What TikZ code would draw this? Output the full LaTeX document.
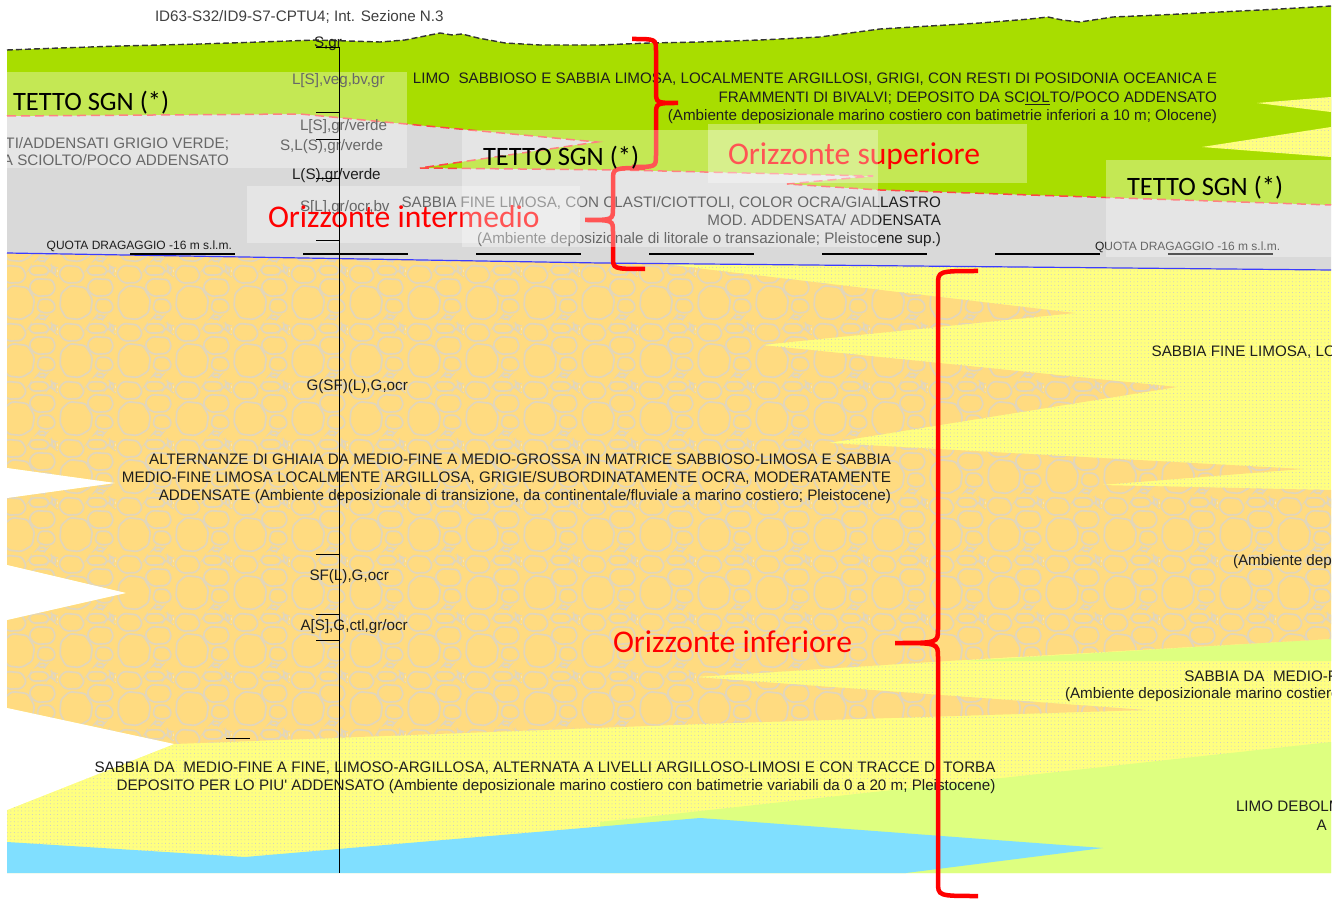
\documentclass[tikz,border=0pt]{standalone}
\usepackage{fontspec}
\setmainfont{Liberation Sans}[Ligatures=TeXOff]
\newfontfamily\calib{Carlito}
\usetikzlibrary{patterns.meta}

\definecolor{topgreen}{RGB}{168,221,0}
\definecolor{greyl}{RGB}{217,217,217}
\definecolor{sand}{RGB}{255,255,128}
\definecolor{gravel}{RGB}{255,219,128}
\definecolor{pebble}{RGB}{226,214,186}
\definecolor{silt}{RGB}{222,255,128}
\definecolor{water}{RGB}{128,223,255}
\definecolor{dotc}{RGB}{200,200,205}
\definecolor{txt}{RGB}{30,30,30}
\definecolor{reddash}{RGB}{255,70,70}
\definecolor{bluel}{RGB}{60,60,255}

\tikzdeclarepattern{
  name=pebbles,
  type=colored,
  bottom left={(0pt,0pt)},
  top right={(58pt,58pt)},
  tile size={(58pt,58pt)},
  code={
    \draw[x=1pt,y=1pt,pebble,line width=1.7pt,rounded corners=3pt]
      (2,14) -- (8,3) -- (22,1.5) -- (33,8) -- (35,22) -- (28,34) -- (12,36) -- (3,28) -- cycle
      (37.5,12) -- (44,8) -- (54,9) -- (56.5,15) -- (52,22) -- (40,22) -- cycle
      (37.5,3) -- (45,1.2) -- (48,5) -- (40,6) -- cycle
      (31,30) -- (38,25) -- (52,26) -- (56.5,33) -- (53,42) -- (36,43) -- (30,37) -- cycle
      (2,44) -- (8,38.5) -- (22,39) -- (27,46) -- (22,55) -- (7,56.5) -- (1.2,50) -- cycle
      (29,51) -- (33,46.5) -- (47,47) -- (50.5,51) -- (46,56) -- (32,56) -- cycle
      (52.5,50) -- (56,47) -- (56.8,54) -- (53,55.5) -- cycle;
  }
}

\begin{document}
\begin{tikzpicture}[x=1pt,y=-1pt,
  txtn/.style={font=\fontsize{15.2}{18}\selectfont, text=txt, inner sep=0pt, outer sep=0pt},
  quota/.style={font=\fontsize{12}{14}\selectfont, text=txt, inner sep=0pt, outer sep=0pt},
  tetto/.style={font=\calib\fontsize{26.5}{30}\selectfont, text=black, inner sep=0pt, outer sep=0pt},
  oriz/.style={font=\calib\fontsize{31.6}{36}\selectfont, text=red, inner sep=0pt, outer sep=0pt},
  sandfill/.style={preaction={fill=sand}, pattern={Dots[distance=3.6pt,radius=0.5pt]}, pattern color=dotc},
  gravelfill/.style={preaction={fill=gravel}, pattern=pebbles},
  brc/.style={draw=red, line width=4.5pt},
  veil/.style={fill=white, fill opacity=0.33},
  tickline/.style={draw=black, line width=1pt},
  redline/.style={draw=reddash, line width=1.5pt, dash pattern=on 9pt off 5pt},
  profline/.style={draw=black!80, line width=1.4pt, dash pattern=on 6pt off 3pt}
]
\useasboundingbox (0,0) rectangle (1344,901);
\fill[white] (0,0) rectangle (1344,901);

% ---------- lower units ----------
\path[sandfill] (7,253) -- (600,263) -- (1331,270) -- (1331,873) -- (7,873) -- cycle;
\fill[silt] (1331,639) -- (963,661) -- (1331,661) -- cycle;
\fill[silt] (1331,742) -- (600,822) -- (600,873) -- (1331,873) -- cycle;
\fill[water] (7,842) -- (245,857) -- (700,818) -- (1103,848) -- (906,873) -- (7,873) -- cycle;
\path[gravelfill] (7,253) -- (662,264) -- (1075,313) -- (761,345) -- (1177,387) -- (828,443)
  -- (1303,469) -- (1100,485) -- (1331,490) -- (1331,639) -- (963,660) -- (695,677)
  -- (1146,710) -- (700,724) -- (174,744) -- (7,708) -- (7,620) -- (126,593) -- (7,565)
  -- (7,498) -- (115,483) -- (7,468) -- cycle;
\fill[white] (7,468) -- (115,483) -- (7,498) -- cycle;
\fill[white] (7,565) -- (126,593) -- (7,620) -- cycle;
\fill[white] (7,708) -- (174,744) -- (7,810) -- cycle;

% ---------- grey unit ----------
\fill[greyl] (7,100) -- (1331,100) -- (1331,270) -- (600,263) -- (7,253) -- cycle;

% ---------- top green unit ----------
\fill[topgreen] (7,50) -- (60,48) -- (120,46) -- (200,44) -- (260,42) -- (316,40) -- (380,42)
  -- (405,40) -- (425,36) -- (440,33) -- (452,35) -- (462,34) -- (478,38) -- (505,43)
  -- (540,45) -- (600,45) -- (650,43) -- (700,42) -- (760,40) -- (820,37) -- (880,29)
  -- (930,26) -- (980,23) -- (1030,19) -- (1048,17) -- (1062,20) -- (1080,22) -- (1113,17)
  -- (1160,15) -- (1220,12) -- (1280,9) -- (1331,6)
  -- (1331,205) -- (880,190) -- (787,184) -- (873,176) -- (620,170) -- (420,168)
  -- (597,142) -- (300,114) -- (7,116) -- cycle;
\path[sandfill] (1331,97) -- (1257,103) -- (1331,112) -- cycle;
\path[sandfill] (1331,127) -- (1202,147) -- (1331,157) -- cycle;

% ---------- boundaries ----------
\draw[redline] (7,116) -- (300,114) -- (597,142) -- (420,168) -- (620,170) -- (873,176)
  -- (787,184) -- (880,190) -- (1331,205);
\draw[draw=bluel, line width=1.2pt] (7,253) -- (600,263) -- (1331,270);
\draw[profline] (7,50) -- (60,48) -- (120,46) -- (200,44) -- (260,42) -- (316,40) -- (380,42)
  -- (405,40) -- (425,36) -- (440,33) -- (452,35) -- (462,34) -- (478,38) -- (505,43)
  -- (540,45) -- (600,45) -- (650,43) -- (700,42) -- (760,40) -- (820,37) -- (880,29)
  -- (930,26) -- (980,23) -- (1030,19) -- (1048,17) -- (1062,20) -- (1080,22) -- (1113,17)
  -- (1160,15) -- (1220,12) -- (1280,9) -- (1331,6);
\draw[black, line width=1.5pt, dash pattern=on 105pt off 68pt] (130,254) -- (1273,254);

% ---------- small texts ----------
\begin{scope}
\clip (7,0) rectangle (1331,873);
\node[txtn, anchor=base west, text=black!75] (title) at (155,22) {ID63-S32/ID9-S7-CPTU4; Int. Sezione N.3};

\node[txtn, anchor=base east] (d1a) at (1217,84) {LIMO\ \ SABBIOSO E SABBIA LIMOSA, LOCALMENTE ARGILLOSI, GRIGI, CON RESTI DI POSIDONIA OCEANICA E};
\node[txtn, anchor=base east] (d1b) at (1217,102.3) {FRAMMENTI DI BIVALVI; DEPOSITO DA SC\underline{IOL}TO/POCO ADDENSATO};
\node[txtn, anchor=base east] (d1c) at (1217,120.5) {(Ambiente deposizionale marino costiero con batimetrie inferiori a 10 m; Olocene)};

\node[txtn, anchor=base east] (d0a) at (229,148.3) {TI/ADDENSATI GRIGIO VERDE;};
\node[txtn, anchor=base east] (d0b) at (229,166) {A SCIOLTO/POCO ADDENSATO};

\node[txtn, anchor=base west] (c0) at (314,47.5) {S,gr};
\node[txtn, anchor=base west] (c1) at (292,84.5) {L[S],veg,bv,gr};
\node[txtn, anchor=base west] (c2) at (300,131) {L[S],gr/verde};
\node[txtn, anchor=base west] (c3) at (280,150.5) {S,L(S),gr/verde};
\node[txtn, anchor=base west] (c4) at (292,180) {L(S),gr/verde};
\node[txtn, anchor=base west] (c5) at (300,211.5) {S[L],gr/ocr,bv};
\node[txtn, anchor=base west] (c6) at (306.5,390) {G(SF)(L),G,ocr};
\node[txtn, anchor=base west] (c7) at (309.5,580) {SF(L),G,ocr};
\node[txtn, anchor=base west] (c8) at (300.5,630) {A[S],G,ctl,gr/ocr};

\node[txtn, anchor=base east] (d2a) at (941,207.7) {SABBIA FINE LIMOSA, CON CLASTI/CIOTTOLI, COLOR OCRA/GIALLASTRO};
\node[txtn, anchor=base east] (d2b) at (941,226) {MOD. ADDENSATA/ ADDENSATA};
\node[txtn, anchor=base east] (d2c) at (941,244) {(Ambiente deposizionale di litorale o transazionale; Pleistocene sup.)};

\node[quota, anchor=base west] (q1) at (46.7,249.3) {QUOTA DRAGAGGIO -16 m s.l.m.};
\node[quota, anchor=base west] (q2) at (1095,250.7) {QUOTA DRAGAGGIO -16 m s.l.m.};

\node[txtn, anchor=base east] (d3a) at (891,464) {ALTERNANZE DI GHIAIA DA MEDIO-FINE A MEDIO-GROSSA IN MATRICE SABBIOSO-LIMOSA E SABBIA};
\node[txtn, anchor=base east] (d3b) at (891,482.3) {MEDIO-FINE LIMOSA LOCALMENTE ARGILLOSA, GRIGIE/SUBORDINATAMENTE OCRA, MODERATAMENTE};
\node[txtn, anchor=base east] (d3c) at (891,500.5) {ADDENSATE (Ambiente deposizionale di transizione, da continentale/fluviale a marino costiero; Pleistocene)};

\node[txtn, anchor=base east] (d4a) at (995.5,772.3) {SABBIA DA\ \ MEDIO-FINE A FINE, LIMOSO-ARGILLOSA, ALTERNATA A LIVELLI ARGILLOSO-LIMOSI E CON TRACCE DI TORBA};
\node[txtn, anchor=base east] (d4b) at (995.5,790) {DEPOSITO PER LO PIU' ADDENSATO (Ambiente deposizionale marino costiero con batimetrie variabili da 0 a 20 m; Pleistocene)};

\node[txtn, anchor=base west] (r1) at (1151.7,356) {SABBIA FINE LIMOSA, LOCALMENTE};
\node[txtn, anchor=base west] (r2) at (1233,565.7) {(Ambiente deposizionale};
\node[txtn, anchor=base west] (r3) at (1184.3,681.5) {SABBIA DA\ \ MEDIO-FINE};
\node[txtn, anchor=base west] (r4) at (1065,698) {(Ambiente deposizionale marino costiero};
\node[txtn, anchor=base west] (r5) at (1236,811) {LIMO DEBOLMENTE};
\node[txtn, anchor=base west] (r6) at (1316.7,830.7) {A};
\end{scope}

% ---------- label backgrounds ----------
\fill[veil] (708,124) rectangle (1027,183);
\fill[veil] (247,186) rectangle (580,243);

% ---------- horizon labels and braces ----------
\node[oriz, anchor=base west] (osup) at (728,165) {Orizzonte superiore};
\node[oriz, anchor=base west] (oint) at (268,228) {Orizzonte intermedio};
\node[oriz, anchor=base west] (oinf) at (613,652) {Orizzonte inferiore};

\draw[brc] (632,39) .. controls (656,39) .. (656,51) -- (656,91) .. controls (656,103) .. (678,103)
  .. controls (656,103) .. (656,115) -- (656,155) .. controls (656,167) .. (632,167);
\draw[brc] (645,168) .. controls (613,168) .. (613,180) -- (613,208) .. controls (613,220) .. (585,220)
  .. controls (613,220) .. (613,232) -- (613,257) .. controls (613,269) .. (645,269);
\draw[brc] (978,271) .. controls (938,271) .. (938,285) -- (938,629) .. controls (938,643) .. (895,643)
  .. controls (938,643) .. (938,657) -- (938,882) .. controls (938,896) .. (978,896);

% ---------- veils ----------
\fill[veil] (462,130) rectangle (878,247);
\fill[veil] (7,72) rectangle (407,168);
\fill[veil] (1106,160) rectangle (1331,257);

% ---------- borehole ----------
\draw[tickline] (339,47) -- (339,873);
\foreach \yy in {48,113,140,179,241,554,614,640}{
  \draw[tickline] (316,\yy) -- (339,\yy);
}
\draw[tickline] (226,738) -- (250,738);

% ---------- TETTO labels ----------
\node[tetto, anchor=base west] (t1) at (13,110.5) {TETTO SGN (*)};
\node[tetto, anchor=base west] (t2) at (483,166) {TETTO SGN (*)};
\node[tetto, anchor=base west] (t3) at (1127,196) {TETTO SGN (*)};
\end{tikzpicture}
\end{document}
